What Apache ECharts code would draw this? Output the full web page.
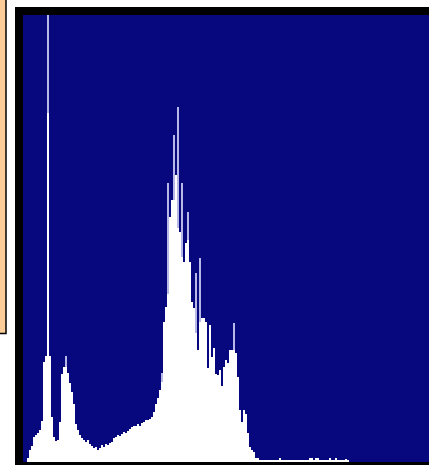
<!DOCTYPE html>
<html>
<head>
<meta charset="utf-8">
<script src="https://cdn.jsdelivr.net/npm/echarts@6/dist/echarts.min.js"></script>
<style>
  html, body { margin: 0; padding: 0; background: #fff; }
  #main { width: 429px; height: 465px; }
</style>
</head>
<body>
<div id="main"></div>
<script>
// histogram heights, one value per bin (bins)
const counts = [
  0, 0, 4, 12, 16, 25, 27, 29, 32, 41,
  100, 106, 349, 106, 45, 25, 21, 22, 40, 88,
  95, 95, 89, 79, 70, 58, 38, 32, 27, 24,
  22, 20, 22, 18, 16, 14, 15, 12, 14, 17,
  15, 18, 17, 19, 20, 24, 25, 27, 26, 28,
  30, 29, 31, 33, 35, 36, 36, 38, 36, 39,
  40, 42, 42, 43, 45, 50, 58, 64, 72, 80,
  140, 155, 168, 245, 262, 262, 287, 234, 230, 205,
  200, 219, 222, 200, 160, 154, 129, 112, 140, 144,
  144, 140, 94, 137, 105, 114, 88, 87, 92, 76,
  95, 102, 99, 112, 112, 112, 109, 85, 52, 40,
  52, 48, 29, 15, 12, 10, 4, 4, 2, 2,
  2, 2, 2, 2, 2, 2, 2, 2, 4, 2,
  2, 2, 2, 2, 2, 2, 2, 2, 2, 2,
  2, 2, 2, 4, 4, 2, 4, 4, 2, 2,
  2, 2, 2, 4, 2, 2, 4, 2, 2, 2,
  2, 3, 2
];

// thin single-bin spikes: bin index and the top they reach
const spikeBins = [12, 21, 69, 72, 75, 77, 79, 82, 86, 88, 105];
const spikeTops = [447, 106, 89, 279, 327, 355, 279, 250, 189, 204, 139];

const binCount = 203;
const yMax = 447;

let cats = [];
for (let i = 0; i < binCount; i++) cats.push(i);

let spikeData = counts.map(() => 0);
for (let i = 0; i < spikeBins.length; i++) {
  spikeData[spikeBins[i]] = spikeTops[i] - counts[spikeBins[i]];
}

var myChart = echarts.init(document.getElementById('main'), null, { renderer: 'canvas' });

var option = {
  animation: false,
  backgroundColor: '#ffffff',
  graphic: [
    // left tan panel edge
    {
      type: 'rect', z: -10,
      shape: { x: -5, y: -5, width: 11, height: 338.5 },
      style: { fill: '#fccc99', stroke: '#000', lineWidth: 1.5 }
    },
    // black frame behind the plot
    {
      type: 'rect', z: -10,
      shape: { x: 15, y: 7, width: 430, height: 470 },
      style: { fill: '#000' }
    }
  ],
  grid: {
    show: true,
    left: 23, top: 15, right: 0, bottom: 3,
    backgroundColor: '#08087e',
    borderWidth: 0
  },
  xAxis: {
    type: 'category',
    data: cats,
    show: false
  },
  yAxis: {
    type: 'value',
    min: 0,
    max: yMax,
    show: false
  },
  series: [
    {
      name: 'counts',
      type: 'bar',
      stack: 'h',
      data: counts,
      barCategoryGap: '0%',
      itemStyle: { color: '#ffffff' }
    },
    {
      name: 'spikes',
      type: 'bar',
      stack: 'h',
      data: spikeData,
      barCategoryGap: '0%',
      itemStyle: { color: '#b8b8e6' }
    }
  ]
};

myChart.setOption(option);
</script>
</body>
</html>
